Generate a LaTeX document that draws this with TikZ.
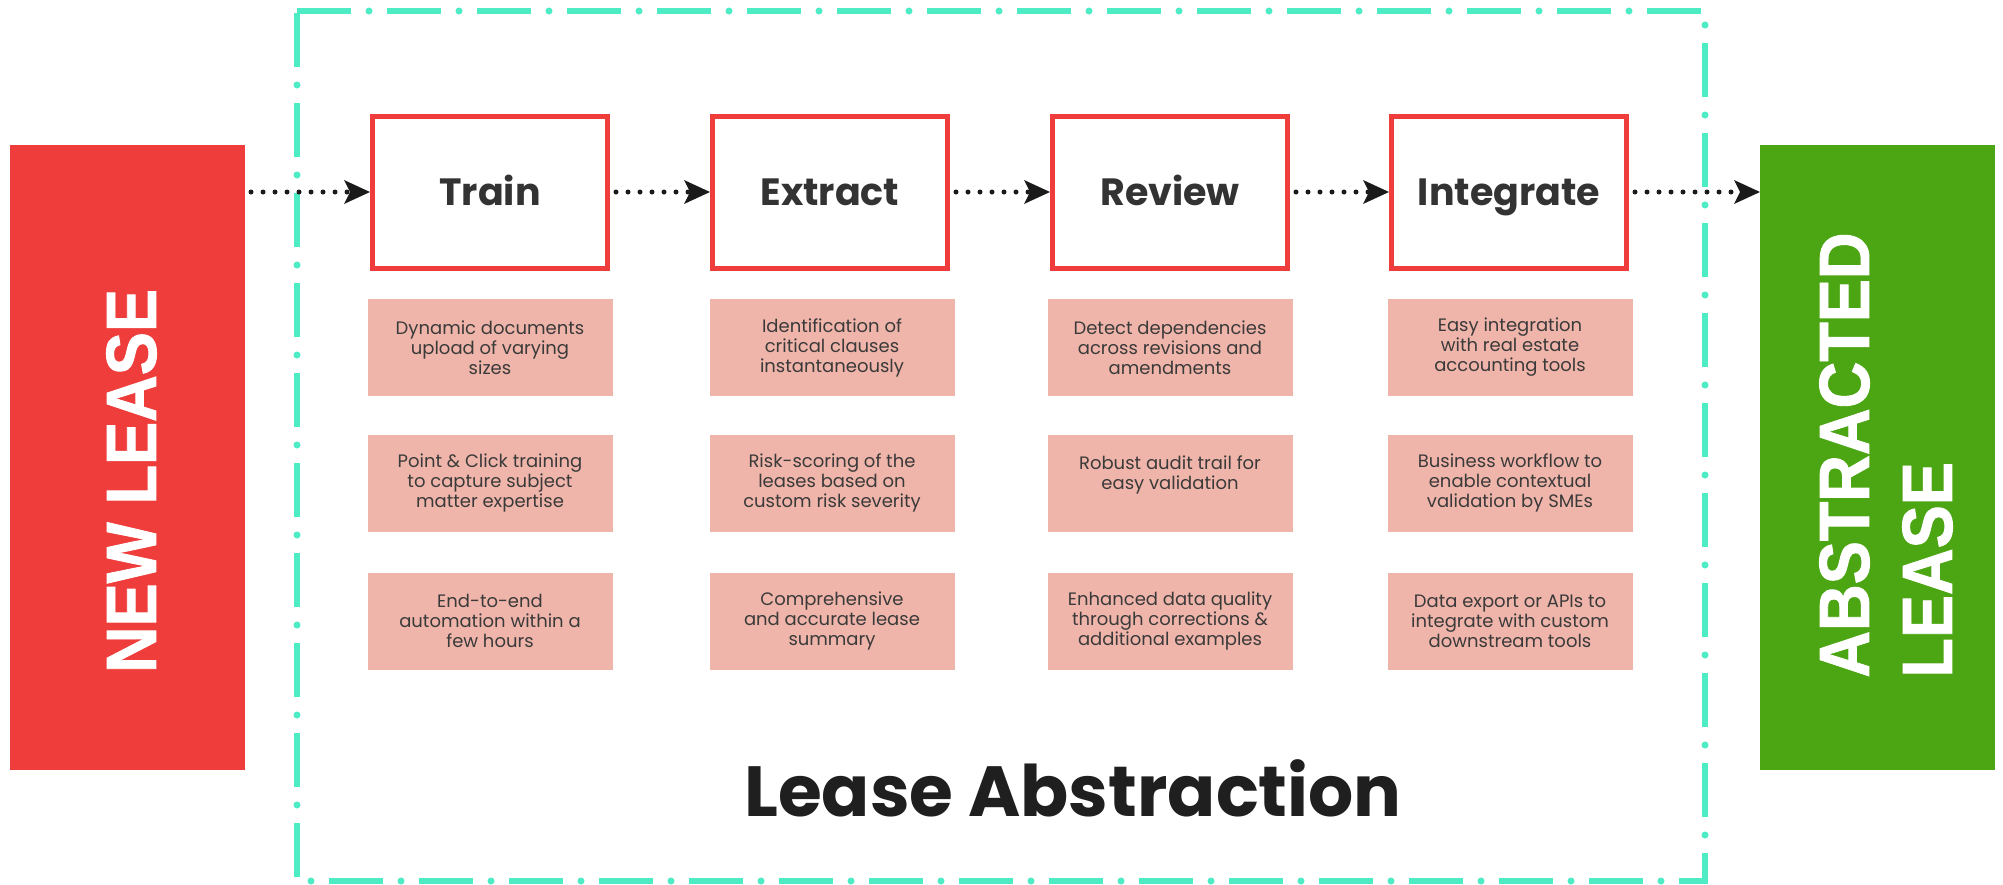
\documentclass[tikz,border=0pt]{standalone}
\usepackage{fontspec}
\setmainfont{Poppins}
\newfontfamily\heavyfont[FakeStretch=0.91,FakeBold=1.3]{Liberation Sans}
\usetikzlibrary{arrows.meta}
\definecolor{lred}{RGB}{238,61,58}
\definecolor{lgreen}{RGB}{76,166,20}
\definecolor{lteal}{RGB}{78,236,196}
\definecolor{lpink}{RGB}{240,181,170}
\definecolor{ltext}{RGB}{58,58,58}
\definecolor{ltitle}{RGB}{51,51,51}
\definecolor{larrow}{RGB}{26,26,26}
\tikzset{
  sidebox/.style={minimum width=235pt, minimum height=625pt, inner sep=0pt, outer sep=0pt},
  sidetext/.style={rotate=90, text=white, inner sep=0pt, font=\heavyfont\bfseries\fontsize{71}{83}\selectfont},
  stagebox/.style={draw=lred, line width=5pt, fill=white, minimum width=235pt, minimum height=152pt,
    inner sep=0pt, text=ltitle, text height=27pt, text depth=0pt, font=\bfseries\fontsize{38}{44}\selectfont},
  infobox/.style={fill=lpink, minimum width=245pt, minimum height=97pt, inner sep=0pt, text=ltext,
    align=center, font=\fontsize{18}{20}\selectfont},
  flow/.style={draw=larrow, line width=5pt, line cap=round, dash pattern=on 0pt off 12pt, shorten <=6pt,
    -{Stealth[length=26pt, width=24pt, inset=6pt, line width=0pt]}},
}
\begin{document}
\begin{tikzpicture}[x=1pt, y=-1pt]
\useasboundingbox (0,0) rectangle (2003,884);
% frame
\coordinate (f1) at (297,11);
\coordinate (f2) at (1705,11);
\coordinate (f3) at (1705,881);
\coordinate (f4) at (297,881);
\draw[lteal, line width=6pt, dash pattern=on 54pt off 36pt] (f1) -- (f2) -- (f3) -- (f4) -- cycle;
\draw[lteal, line width=7pt, line cap=round, dash pattern=on 0pt off 90pt, dash phase=18pt] (f1) -- (f2) -- (f3) -- (f4) -- cycle;
% side boxes
\node[sidebox, fill=lred] (new) at (127.5,457.5) {};
\node[sidetext] (newtxt) at (131.5,481) {NEW LEASE};
\node[sidebox, fill=lgreen] (abs) at (1877.5,457.5) {};
\node[sidetext, align=left] (abstxt) at (1886,455) {ABSTRACTED\\LEASE};
% stages
\node[stagebox] (train) at (490,192) {Train};
\node[stagebox] (extract) at (830,192) {Extract};
\node[stagebox] (review) at (1170,192) {Review};
\node[stagebox] (integ) at (1509,192) {Integrate};
% info boxes
\node[infobox] (t1) at (490,347.5) {Dynamic documents\\upload of varying\\sizes};
\node[infobox] (t2) at (490,483) {Point \& Click training\\to capture subject\\matter expertise};
\node[infobox] (t3) at (490,621) {End-to-end\\automation within a\\few hours};
\node[infobox] (e1) at (832,347.5) {Identification of\\critical clauses\\instantaneously};
\node[infobox] (e2) at (832,483) {Risk-scoring of the\\leases based on\\custom risk severity};
\node[infobox] (e3) at (832,621) {Comprehensive\\and accurate lease\\summary};
\node[infobox] (r1) at (1170,347.5) {Detect dependencies\\across revisions and\\amendments};
\node[infobox] (r2) at (1170,483) {Robust audit trail for\\easy validation\\\mbox{}};
\node[infobox] (r3) at (1170,621) {Enhanced data quality\\through corrections \&\\additional examples};
\node[infobox] (i1) at (1510,347.5) {Easy integration\\with real estate\\accounting tools};
\node[infobox] (i2) at (1510,483) {Business workflow to\\enable contextual\\validation by SMEs};
\node[infobox] (i3) at (1510,621) {Data export or APIs to\\integrate with custom\\downstream tools};
% connectors
\draw[flow] (new.east |- train.west) -- (train.west);
\draw[flow] (train.east) -- (extract.west);
\draw[flow] (extract.east) -- (review.west);
\draw[flow] (review.east) -- (integ.west);
\draw[flow] (integ.east) -- (abs.west |- integ.east);
% title
\node[anchor=base, inner sep=0pt, text=black!88, font=\bfseries\fontsize{71}{80}\selectfont] (title) at (1073,816) {Lease Abstraction};
\end{tikzpicture}
\end{document}
